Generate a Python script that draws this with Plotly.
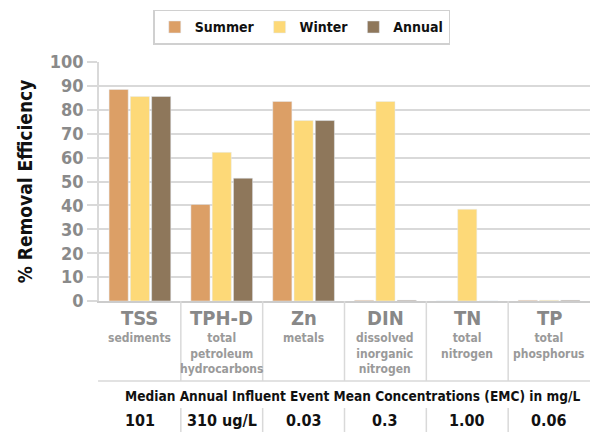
import plotly.graph_objects as go

categories = ["TSS", "TPH-D", "Zn", "DIN", "TN", "TP"]
subtitles = ["sediments", "total<br>petroleum<br>hydrocarbons", "metals",
             "dissolved<br>inorganic<br>nitrogen", "total<br>nitrogen", "total<br>phosphorus"]
summer = [88.5, 40.4, 83.5, 0.3, 0, 0.3]
winter = [85.6, 62.2, 75.5, 83.5, 38.4, 0.3]
annual = [85.6, 51.4, 75.5, 0.3, 0, 0.3]
emc_header = "Median Annual Influent Event Mean Concentrations (EMC) in mg/L"
emc_values = ["101", "310 ug/L", "0.03", "0.3", "1.00", "0.06"]

FONT = "DejaVu Sans Condensed"
C_SUM = "#dc9f66"
C_WIN = "#fdd978"
C_ANN = "#8e775b"
GRID = "#d9d9d9"

x_idx = list(range(len(categories)))

fig = go.Figure()
fig.add_trace(go.Bar(name="<b>Summer</b>", x=x_idx, y=summer, marker_color=C_SUM))
fig.add_trace(go.Bar(name="<b>Winter</b>", x=x_idx, y=winter, marker_color=C_WIN))
fig.add_trace(go.Bar(name="<b>Annual</b>", x=x_idx, y=annual, marker_color=C_ANN))

annotations = []
for i, (c, s, v) in enumerate(zip(categories, subtitles, emc_values)):
    annotations.append(dict(x=i, y=0, xref="x", yref="paper", text="<b>%s</b>" % c,
                            showarrow=False, yanchor="middle", yshift=-17,
                            font=dict(family=FONT, size=20, color="#888888")))
    annotations.append(dict(x=i, y=0, xref="x", yref="paper", text="<b>%s</b>" % s,
                            showarrow=False, yanchor="top", yshift=-28,
                            font=dict(family=FONT, size=12, color="#9a9a9a")))
    annotations.append(dict(x=i, y=0, xref="x", yref="paper", text="<b>%s</b>" % v,
                            showarrow=False, yanchor="middle", yshift=-119,
                            font=dict(family=FONT, size=16, color="#111111")))
annotations.append(dict(x=0.517, y=0, xref="paper", yref="paper", text="<b>%s</b>" % emc_header,
                        showarrow=False, yanchor="middle", yshift=-95,
                        font=dict(family=FONT, size=13.6, color="#111111")))

shapes = []
for i in range(len(categories) - 1):
    shapes.append(dict(type="line", xref="x", yref="paper", x0=i + 0.5, x1=i + 0.5,
                       y0=0, y1=-80 / 239, line=dict(color=GRID, width=1.5)))
    shapes.append(dict(type="line", xref="x", yref="paper", x0=i + 0.5, x1=i + 0.5,
                       y0=-107 / 239, y1=-131 / 239, line=dict(color=GRID, width=1.5)))
shapes.append(dict(type="line", xref="paper", yref="paper", x0=-0.002, x1=1,
                   y0=-80 / 239, y1=-80 / 239, line=dict(color=GRID, width=1.5)))

fig.update_layout(
    width=595, height=432,
    margin=dict(l=99, r=5, t=62, b=131, autoexpand=False),
    paper_bgcolor="white", plot_bgcolor="white",
    barmode="group", bargap=0.22, bargroupgap=0.1,
    font=dict(family=FONT),
    legend=dict(orientation="h", x=0.413, xanchor="center", y=1.218, yanchor="top",
                bordercolor="#d0d0d0", borderwidth=1.5,
                font=dict(family=FONT, size=14, color="#111111"),
                itemwidth=30, tracegroupgap=0),
    xaxis=dict(range=[-0.5, 5.5], showticklabels=False, ticks="", showgrid=False,
               showline=True, linecolor="#cccccc", linewidth=2, zeroline=False),
    yaxis=dict(range=[0, 100], dtick=10, showgrid=True, gridcolor=GRID, gridwidth=1.5,
               showline=True, linecolor=GRID, linewidth=1.5, ticks="outside", ticklen=10,
               tickcolor=GRID, tickwidth=1.5, zeroline=False,
               tickfont=dict(family=FONT, size=18, color="#8a8a8a", weight="bold"),
               title=dict(text="<b>% Removal Efficiency</b>", standoff=12,
                          font=dict(family=FONT, size=19, color="#111111"))),
    annotations=annotations, shapes=shapes,
)

fig.write_html("out.html", config={"displayModeBar": False},
               post_script="document.body.style.margin='0';")
